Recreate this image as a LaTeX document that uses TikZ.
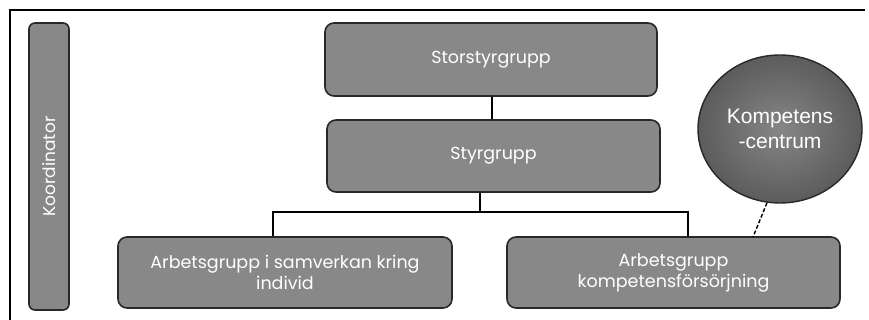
\documentclass[tikz,border=0pt]{standalone}
\usepackage{fontspec}
\setmainfont{Poppins}
\newfontfamily\arialfont{Liberation Sans}
\usetikzlibrary{shapes.geometric}
\definecolor{boxgray}{RGB}{136,136,136}
\definecolor{edgegray}{RGB}{40,40,40}
\tikzset{
  grpbox/.style={draw=edgegray, line width=1.6pt, fill=boxgray, rounded corners=9pt,
    text=white, align=center, inner sep=0pt, font=\fontsize{17.5}{21}\selectfont},
  conn/.style={draw=black, line width=1.8pt},
}
\begin{document}
\begin{tikzpicture}[x=1pt,y=1pt]
\useasboundingbox (0,0) rectangle (869,-320);
\draw[line width=1.8pt] (10,-330) -- (10,-10) -- (865,-10);
\node[grpbox, rounded corners=6pt, minimum width=40pt, minimum height=287pt] (koord) at (49,-166.5)
  {\rotatebox{90}{\fontsize{17}{20}\selectfont Koordinator}};
\node[grpbox, minimum width=332pt, minimum height=73pt] (ssg) at (491,-59.5) {Storstyrgrupp};
\node[grpbox, minimum width=333pt, minimum height=72pt] (sg) at (493.5,-156) {Styrgrupp};
\node[grpbox, minimum width=334pt, minimum height=71pt] (ag1) at (285,-272.5) {Arbetsgrupp i samverkan kring\\individ};
\node[grpbox, minimum width=333pt, minimum height=71pt] (ag2) at (673.5,-272.5) {Arbetsgrupp\\kompetensförsörjning};
\node[ellipse, draw=edgegray, line width=1.4pt, inner color=gray!95, outer color=gray!72!black,
  minimum width=164pt, minimum height=148pt, text=white, align=center,
  font=\arialfont\fontsize{21}{25}\selectfont] (kc) at (780,-129) {Kompetens\\-centrum};
\coordinate (jc) at (480,-212);
\coordinate (jl) at (273,-212);
\coordinate (jr) at (688,-212);
\coordinate (dd) at (753,-237);
\draw[conn] (ssg.south -| 492,0) -- (sg.north -| 492,0);
\draw[conn] (sg.south -| jc) -- (jc);
\draw[conn] (ag1.north -| jl) -- (jl) -- (jr) -- (ag2.north -| jr);
\draw[line width=1.4pt, dashed, dash pattern=on 4pt off 2pt] (kc.260) -- (dd);
\end{tikzpicture}
\end{document}
